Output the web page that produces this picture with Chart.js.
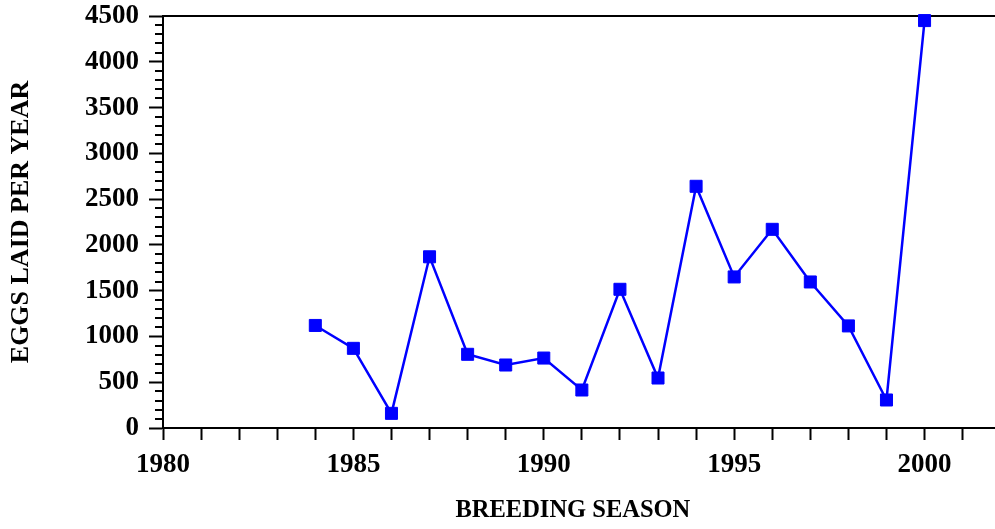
<!DOCTYPE html>
<html><head><meta charset="utf-8">
<script src="https://cdn.jsdelivr.net/npm/chart.js@4/dist/chart.umd.min.js"></script>
<style>html,body{margin:0;padding:0;background:#fff}#wrap{width:995px;height:529px}</style>
</head><body><div id="wrap"><canvas id="c" width="995" height="529"></canvas></div>
<script>
const years = [1984,1985,1986,1987,1988,1989,1990,1991,1992,1993,1994,1995,1996,1997,1998,1999,2000];
const eggs = [1120,870,160,1870,805,688,764,415,1515,546,2640,1650,2170,1595,1115,306,4450];
const xTickLabels = [1980,1985,1990,1995,2000];
const yTickLabels = [0,500,1000,1500,2000,2500,3000,3500,4000,4500];
const xTitle = 'BREEDING SEASON';
const yTitle = 'EGGS LAID PER YEAR';

const FONT = '"Liberation Serif","Times New Roman",serif';
const minorTicks = {
  id:'minorTicks',
  afterDraw(chart){
    const y = chart.scales.y, ctx = chart.ctx;
    ctx.save(); ctx.strokeStyle='#000'; ctx.lineWidth=2;
    for (let v = 0; v <= 4500; v += 100) {
      if (yTickLabels.includes(v)) continue;
      const py = Math.round(y.getPixelForValue(v));
      ctx.beginPath(); ctx.moveTo(y.right - 8, py); ctx.lineTo(y.right, py); ctx.stroke();
    }
    ctx.restore();
  }
};
function noPad(s){ s.paddingTop=0; s.paddingBottom=0; s.paddingLeft=0; s.paddingRight=0; }
new Chart(document.getElementById('c'), {
  type:'line',
  data:{datasets:[{
    data: years.map((x,i)=>({x, y: eggs[i]})),
    borderColor:'#0000ff', backgroundColor:'#0000ff', borderWidth:2.5,
    pointStyle:'rect', pointRadius:8.5, pointBorderWidth:1, pointBorderColor:'#0000ff',
    pointBackgroundColor:'#0000ff', tension:0, clip:false
  }]},
  options:{
    responsive:false, animation:false, devicePixelRatio:1,
    layout:{padding:0, autoPadding:false},
    plugins:{legend:{display:false}, tooltip:{enabled:false}},
    scales:{
      x:{type:'linear', position:'bottom', min:1980, max:2001.85,
        afterFit(s){ s.height = 101; noPad(s); },
        grid:{drawOnChartArea:false, tickLength:12, tickWidth:2, tickColor:'#000'},
        border:{display:true, color:'#000', width:2},
        ticks:{stepSize:1, includeBounds:false, autoSkip:false, maxRotation:0, padding:9, color:'#000',
          font:{family:FONT, size:27, weight:'bold'},
          callback:v => xTickLabels.includes(v) ? String(v) : ''},
        title:{display:true, text:xTitle + '\u00a0\u00a0', color:'#000', padding:{top:0,bottom:4},
          font:{family:FONT, size:24.5, weight:'bold'}}
      },
      x2:{type:'linear', position:'top', min:1980, max:2001.85,
        afterFit(s){ s.height = 16; noPad(s); },
        grid:{display:false}, ticks:{display:false},
        border:{display:true, color:'#000', width:2}
      },
      y:{type:'linear', position:'left', min:0, max:4500,
        afterFit(s){ s.width = 163; noPad(s); },
        grid:{drawOnChartArea:false, tickLength:14, tickWidth:2,
          tickColor: c => yTickLabels.includes(c.tick && c.tick.value) ? '#000' : 'rgba(0,0,0,0)'},
        border:{display:true, color:'#000', width:2},
        ticks:{stepSize:100, autoSkip:false, padding:10, color:'#000',
          font:{family:FONT, size:27, weight:'bold'},
          callback:v => yTickLabels.includes(v) ? String(v) : ''},
        title:{display:true, text:yTitle, color:'#000', padding:{top:6,bottom:0},
          font:{family:FONT, size:26, weight:'bold'}}
      }
    }
  },
  plugins:[minorTicks]
});
</script></body></html>
